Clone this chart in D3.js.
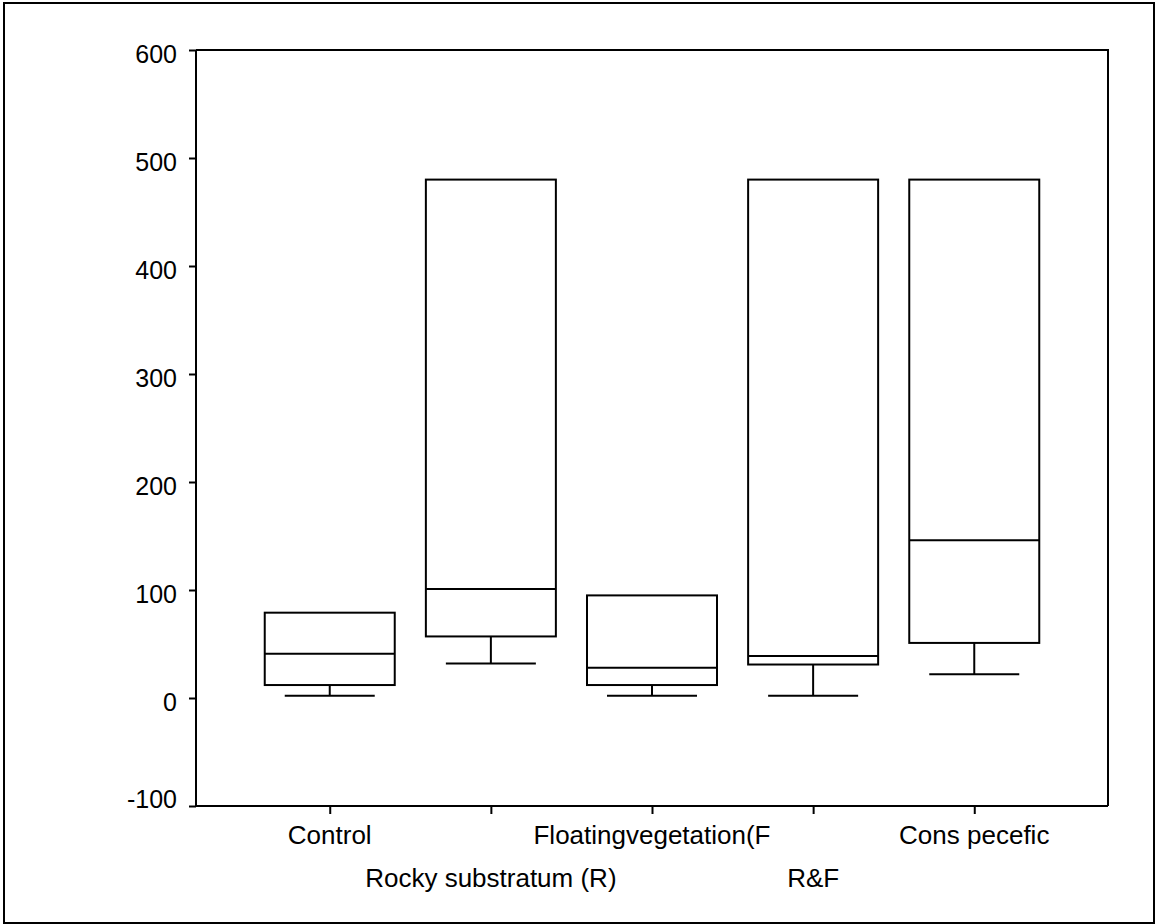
<!DOCTYPE html>
<html>
<head>
<meta charset="utf-8">
<script src="https://cdn.jsdelivr.net/npm/d3@7"></script>
<style>
body{margin:0;background:white;}
text{font-family:"Liberation Sans", Arial, sans-serif;fill:#000;}
</style>
</head>
<body>
<svg width="1156" height="924"></svg>
<script>
const svg = d3.select('svg');
svg.style("background-color",'white');

const width = +svg.attr('width');
const height = +svg.attr('height');

// data
const categories = ['Control','Rocky substratum (R)','Floatingvegetation(F','R&F','Cons pecefic'];
const whiskerLow = [2, 32, 2, 2, 22];
const q1 = [12, 57, 12, 31, 51];
const median = [41, 101, 28, 39, 146];
const q3 = [79, 480, 95, 480, 480];
const yTicks = [-100, 0, 100, 200, 300, 400, 500, 600];

const data = categories.map((c,i)=>({
	name:c,
	lo:whiskerLow[i],
	q1:q1[i],
	med:median[i],
	q3:q3[i]
}));

const margin = {top:50, right:48, bottom:118, left:196};
const innerWidth = width - margin.left - margin.right;
const innerHeight = height - margin.top - margin.bottom;

// outer frame
svg.append('rect')
	.attr('x',4).attr('y',3)
	.attr('width',1150).attr('height',920)
	.attr('fill','none').attr('stroke','#000').attr('stroke-width',2);

const g = svg.append('g')
	.attr('transform',`translate(${margin.left},${margin.top})`);

const xScale = d3.scalePoint()
	.domain(categories)
	.range([0,innerWidth])
	.padding(0.83);

const yScale = d3.scaleLinear()
	.domain([-100,600])
	.range([innerHeight,0]);

// plot frame (top + right)
g.append('path')
	.attr('d',`M0,0H${innerWidth}V${innerHeight}`)
	.attr('fill','none').attr('stroke','#000').attr('stroke-width',2);

const yAxis = g.append('g')
	.call(d3.axisLeft(yScale).tickValues(yTicks).tickSize(7).tickPadding(12).tickFormat(d=>String(d)));
yAxis.select('.domain').attr('stroke-width',2).attr('d',`M0,0V${innerHeight}`);
yAxis.selectAll('.tick line').attr('stroke-width',2);
yAxis.selectAll('.tick text')
	.style('font-size','25px')
	.style('font-family','"Liberation Sans", Arial, sans-serif')
	.attr('dy',d=> d===-100 ? '0.05em' : '0.5em');

const xAxis = g.append('g')
	.attr('transform',`translate(0,${innerHeight})`)
	.call(d3.axisBottom(xScale).tickSize(8));
xAxis.select('.domain').attr('stroke-width',2).attr('d',`M0,0H${innerWidth}`);
xAxis.selectAll('.tick line').attr('stroke-width',2);
xAxis.selectAll('.tick text').remove();

// category labels, staggered in two rows
g.selectAll('.xlabel').data(categories)
	.enter().append('text')
		.attr('class','xlabel')
		.attr('x',d=>xScale(d))
		.attr('y',(d,i)=> innerHeight + (i%2===0 ? 38 : 81))
		.attr('text-anchor','middle')
		.style('font-size','26px')
		.text(d=>d);

const boxW = 130;
const capW = 90;

const boxes = g.selectAll('.box').data(data)
	.enter().append('g')
		.attr('class','box')
		.attr('transform',d=>`translate(${xScale(d.name)},0)`);

// lower whisker
boxes.append('line')
	.attr('x1',0).attr('x2',0)
	.attr('y1',d=>yScale(d.q1))
	.attr('y2',d=>yScale(d.lo))
	.attr('stroke','#000').attr('stroke-width',2);

boxes.append('line')
	.attr('x1',-capW/2).attr('x2',capW/2)
	.attr('y1',d=>yScale(d.lo))
	.attr('y2',d=>yScale(d.lo))
	.attr('stroke','#000').attr('stroke-width',2);

boxes.append('rect')
	.attr('x',-boxW/2)
	.attr('width',boxW)
	.attr('y',d=>yScale(d.q3))
	.attr('height',d=>yScale(d.q1)-yScale(d.q3))
	.attr('fill','none').attr('stroke','#000').attr('stroke-width',2);

boxes.append('line')
	.attr('x1',-boxW/2).attr('x2',boxW/2)
	.attr('y1',d=>yScale(d.med))
	.attr('y2',d=>yScale(d.med))
	.attr('stroke','#000').attr('stroke-width',2);
</script>
</body>
</html>
